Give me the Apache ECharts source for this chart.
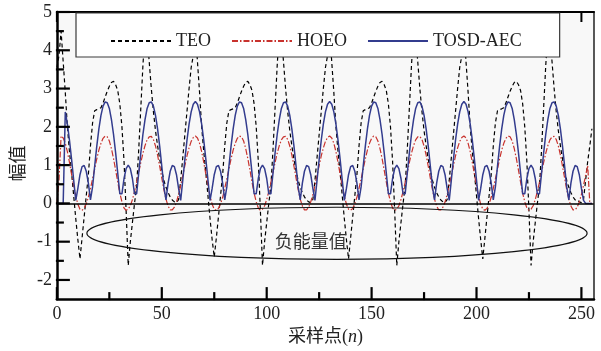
<!DOCTYPE html>
<html><head><meta charset="utf-8">
<script src="https://cdn.jsdelivr.net/npm/echarts@6/dist/echarts.min.js"></script>
<style>html,body{margin:0;padding:0;background:#fff}#c{width:601px;height:351px}</style>
</head><body><div id="c"></div>
<script>
const seriesNames = ['TEO', 'HOEO', 'TOSD-AEC'];

const teo = [
  3.55, 3.86, 4.5, 3.7, 2.9, 2.0, 1.35, 0.8, 0.2, -0.4, -0.95, -1.45, -0.9, -0.35, 0.2, 0.75, 1.5, 2.1, 2.42, 2.45, 2.47, 2.5, 2.62, 2.78, 2.93, 3.06, 3.16, 3.19, 3.1, 2.95, 2.6, 2.0, 1.1, -0.2, -1.62, -1.0, -0.5, 0.0, 0.45, 1.4, 2.5, 3.6, 4.5, 4.4, 3.7, 3.0, 2.4, 1.9, 1.5, 1.15, 0.85, 0.6, 0.42, 0.28, 0.17, 0.09, 0.04, 0.02, 0.1, 0.6, 1.2, 1.8, 2.4, 3.0,
  3.55, 3.86, 4.5, 3.7, 2.9, 2.0, 1.35, 0.8, 0.2, -0.4, -0.95, -1.4, -0.9, -0.35, 0.2, 0.75, 1.5, 2.1, 2.42, 2.45, 2.47, 2.5, 2.62, 2.78, 2.93, 3.06, 3.16, 3.19, 3.1, 2.95, 2.6, 2.0, 1.1, -0.2, -1.62, -1.0, -0.5, 0.0, 0.45, 1.4, 2.5, 3.6, 4.5, 4.4, 3.7, 3.0, 2.4, 1.9, 1.5, 1.15, 0.85, 0.6, 0.42, 0.28, 0.17, 0.09, 0.04, 0.02, 0.1, 0.6, 1.2, 1.8, 2.4, 3.0,
  3.55, 3.86, 4.5, 3.7, 2.9, 2.0, 1.35, 0.8, 0.2, -0.4, -0.95, -1.45, -0.9, -0.35, 0.2, 0.75, 1.5, 2.1, 2.42, 2.45, 2.47, 2.5, 2.62, 2.78, 2.93, 3.06, 3.16, 3.19, 3.1, 2.95, 2.6, 2.0, 1.1, -0.2, -1.62, -1.0, -0.5, 0.0, 0.45, 1.4, 2.5, 3.6, 4.5, 4.4, 3.7, 3.0, 2.4, 1.9, 1.5, 1.15, 0.85, 0.6, 0.42, 0.28, 0.17, 0.09, 0.04, 0.02, 0.1, 0.6, 1.2, 1.8, 2.4, 3.0,
  3.55, 3.86, 4.5, 3.7, 2.9, 2.0, 1.35, 0.8, 0.2, -0.4, -0.95, -1.45, -0.9, -0.35, 0.2, 0.75, 1.5, 2.1, 2.42, 2.45, 2.47, 2.5, 2.62, 2.78, 2.93, 3.06, 3.16, 3.19, 3.1, 2.95, 2.6, 2.0, 1.1, -0.2, -1.62, -1.0, -0.5, 0.0, 0.45, 1.4, 2.5, 3.6, 4.5, 4.4, 3.7, 3.0, 2.4, 1.9, 1.5, 1.15, 0.85, 0.6, 0.42, 0.28, 0.17, 0.09, 0.1, 0.04, 0.02, 0.1, 0.6, 1.1, 1.5, 1.95
];

const hoeo = [
  0, 0.6, 1.76, 1.71, 1.57, 1.35, 1.07, 0.76, 0.46, 0.19, -0.02, -0.15, -0.18, -0.13, -0.01, 0.16, 0.39, 0.64, 0.90, 1.16, 1.39, 1.57, 1.70, 1.76, 1.74, 1.63, 1.43, 1.17, 0.87, 0.56, 0.27, 0.04, -0.12, -0.18, -0.15, -0.06, 0.10, 0.31, 0.55, 0.81, 1.07, 1.31, 1.51, 1.66, 1.74, 1.75, 1.67, 1.50, 1.26, 0.97, 0.66, 0.36, 0.11, -0.07, -0.17, -0.17, -0.10, 0.04, 0.23, 0.47, 0.73, 0.99, 1.24, 1.45,
  1.62, 1.72, 1.76, 1.71, 1.57, 1.35, 1.07, 0.76, 0.46, 0.19, -0.02, -0.15, -0.18, -0.13, -0.01, 0.16, 0.39, 0.64, 0.90, 1.16, 1.39, 1.57, 1.70, 1.76, 1.74, 1.63, 1.43, 1.17, 0.87, 0.56, 0.27, 0.04, -0.12, -0.18, -0.15, -0.06, 0.10, 0.31, 0.55, 0.81, 1.07, 1.31, 1.51, 1.66, 1.74, 1.75, 1.67, 1.50, 1.26, 0.97, 0.66, 0.36, 0.11, -0.07, -0.17, -0.17, -0.10, 0.04, 0.23, 0.47, 0.73, 0.99, 1.24, 1.45,
  1.62, 1.72, 1.76, 1.71, 1.57, 1.35, 1.07, 0.76, 0.46, 0.19, -0.02, -0.15, -0.18, -0.13, -0.01, 0.16, 0.39, 0.64, 0.90, 1.16, 1.39, 1.57, 1.70, 1.76, 1.74, 1.63, 1.43, 1.17, 0.87, 0.56, 0.27, 0.04, -0.12, -0.18, -0.15, -0.06, 0.10, 0.31, 0.55, 0.81, 1.07, 1.31, 1.51, 1.66, 1.74, 1.75, 1.67, 1.50, 1.26, 0.97, 0.66, 0.36, 0.11, -0.07, -0.17, -0.17, -0.10, 0.04, 0.23, 0.47, 0.73, 0.99, 1.24, 1.45,
  1.62, 1.72, 1.76, 1.71, 1.57, 1.35, 1.07, 0.76, 0.46, 0.19, -0.02, -0.15, -0.18, -0.13, -0.01, 0.16, 0.39, 0.64, 0.90, 1.16, 1.39, 1.57, 1.70, 1.76, 1.74, 1.63, 1.43, 1.17, 0.87, 0.56, 0.27, 0.04, -0.12, -0.18, -0.15, -0.06, 0.10, 0.31, 0.55, 0.81, 1.07, 1.31, 1.51, 1.66, 1.74, 1.75, 1.67, 1.50, 1.26, 0.97, 0.66, 0.36, 0.11, -0.07, -0.17, -0.17, -0.10, 0.04, 0.23, 0.47, 0.73, 0.99, 0, 0
];

const tosdAec = [
  0, 0, 0, 0, 2.39, 2.07, 1.65, 1.15, 0.61, 0.08, 0.39, 0.75, 0.96, 0.99, 0.84, 0.53, 0.09, 0.43, 0.97, 1.49, 1.94, 2.30, 2.54, 2.65, 2.63, 2.48, 2.19, 1.80, 1.32, 0.79, 0.25, 0.25, 0.65, 0.91, 1.00, 0.91, 0.65, 0.25, 0.25, 0.79, 1.32, 1.80, 2.19, 2.48, 2.63, 2.65, 2.54, 2.30, 1.94, 1.49, 0.97, 0.43, 0.09, 0.53, 0.84, 0.99, 0.96, 0.75, 0.39, 0.08, 0.61, 1.15, 1.65, 2.07,
  2.39, 2.59, 2.66, 2.59, 2.39, 2.07, 1.65, 1.15, 0.61, 0.08, 0.39, 0.75, 0.96, 0.99, 0.84, 0.53, 0.09, 0.43, 0.97, 1.49, 1.94, 2.30, 2.54, 2.65, 2.63, 2.48, 2.19, 1.80, 1.32, 0.79, 0.25, 0.25, 0.65, 0.91, 1.00, 0.91, 0.65, 0.25, 0.25, 0.79, 1.32, 1.80, 2.19, 2.48, 2.63, 2.65, 2.54, 2.30, 1.94, 1.49, 0.97, 0.43, 0.09, 0.53, 0.84, 0.99, 0.96, 0.75, 0.39, 0.08, 0.61, 1.15, 1.65, 2.07,
  2.39, 2.59, 2.66, 2.59, 2.39, 2.07, 1.65, 1.15, 0.61, 0.08, 0.39, 0.75, 0.96, 0.99, 0.84, 0.53, 0.09, 0.43, 0.97, 1.49, 1.94, 2.30, 2.54, 2.65, 2.63, 2.48, 2.19, 1.80, 1.32, 0.79, 0.25, 0.25, 0.65, 0.91, 1.00, 0.91, 0.65, 0.25, 0.25, 0.79, 1.32, 1.80, 2.19, 2.48, 2.63, 2.65, 2.54, 2.30, 1.94, 1.49, 0.97, 0.43, 0.09, 0.53, 0.84, 0.99, 0.96, 0.75, 0.39, 0.08, 0.61, 1.15, 1.65, 2.07,
  2.39, 2.59, 2.66, 2.59, 2.39, 2.07, 1.65, 1.15, 0.61, 0.08, 0.39, 0.75, 0.96, 0.99, 0.84, 0.53, 0.09, 0.43, 0.97, 1.49, 1.94, 2.30, 2.54, 2.65, 2.63, 2.48, 2.19, 1.80, 1.32, 0.79, 0.25, 0.25, 0.65, 0.91, 1.00, 0.91, 0.65, 0.25, 0.25, 0.79, 1.32, 1.80, 2.19, 2.48, 2.63, 2.65, 2.54, 2.30, 1.94, 1.49, 0.97, 0.43, 0.09, 0.53, 0.84, 0.99, 0.96, 0.75, 0.39, 0.08, 0, 0, 0, 0
];

const xMajorTicks = [0, 50, 100, 150, 200, 250];
const xMinorTicks = [25, 75, 125, 175, 225];
const yMajorTicks = [-2, -1, 0, 1, 2, 3, 4, 5];
const yMinorTicks = [-1.5, -0.5, 0.5, 1.5, 2.5, 3.5, 4.5];

const xName = '采样点({it|n})';
const yName = '幅值';
const noteText = '负能量值';

const X_MIN = 0, X_MAX = 256, Y_MIN = -2.5, Y_MAX = 5;

const serif = "'Liberation Serif', 'Times New Roman', serif";
const cjk = "'Liberation Serif', 'Noto Sans CJK SC', serif";

function pairs(arr) { return arr.map((v, i) => [i, v]); }

function bgRender(params, api) {
  const cs = params.coordSys;
  return { type: 'rect', shape: { x: cs.x, y: cs.y, width: cs.width, height: cs.height }, style: { fill: '#f8f8f8' } };
}

const chart = echarts.init(document.getElementById('c'), null, { renderer: 'canvas' });

const option = {
  animation: false,
  backgroundColor: '#ffffff',
  grid: { left: 55, right: 7, top: 12, bottom: 46, show: false },
  legend: {
    data: seriesNames,
    left: 76, top: 13, z: 20, zlevel: 1,
    padding: [19, 38, 7, 34],
    itemWidth: 60, itemHeight: 14, itemGap: 20,
    itemStyle: { opacity: 0 },
    backgroundColor: '#ffffff', borderColor: '#3a3a3a', borderWidth: 1.2, borderRadius: 0,
    textStyle: { fontFamily: serif, fontSize: 18, color: '#222' },
    selectedMode: false
  },
  xAxis: [
    {
      type: 'value', min: X_MIN, max: X_MAX, position: 'bottom', splitLine: { show: false }, z: 8,
      axisLine: { show: true, onZero: false, lineStyle: { color: '#000', width: 2.5 } },
      axisTick: { show: false },
      axisLabel: { show: true, customValues: xMajorTicks, margin: 6, fontFamily: serif, fontSize: 18, color: '#222' },
      name: xName, nameLocation: 'middle', nameGap: 25,
      nameTextStyle: { fontFamily: cjk, fontSize: 18, color: '#222', rich: { it: { fontFamily: serif, fontStyle: 'italic', fontSize: 18, color: '#222' } } }
    },
    {
      type: 'value', min: X_MIN, max: X_MAX, position: 'top', splitLine: { show: false }, z: 8,
      axisLine: { show: true, onZero: false, lineStyle: { color: '#000', width: 2 } },
      axisTick: { show: false }, axisLabel: { show: false }
    }
  ],
  yAxis: [
    {
      type: 'value', min: Y_MIN, max: Y_MAX, position: 'left', splitLine: { show: false }, z: 8,
      axisLine: { show: true, onZero: false, lineStyle: { color: '#000', width: 2.5 } },
      axisTick: { show: false },
      axisLabel: { show: true, customValues: yMajorTicks, margin: 5, fontFamily: serif, fontSize: 18, color: '#222' },
      name: yName, nameLocation: 'middle', nameGap: 30, nameRotate: 90,
      nameTextStyle: { fontFamily: "'Noto Sans CJK SC'", fontSize: 18, color: '#222', padding: [0, 16, 0, 0] }
    },
    {
      type: 'value', min: Y_MIN, max: Y_MAX, position: 'right', splitLine: { show: false }, z: 8,
      axisLine: { show: true, onZero: false, lineStyle: { color: '#222', width: 1.5 } },
      axisTick: { show: false }, axisLabel: { show: false }
    }
  ],
  series: [
    {
      type: 'custom', name: 'plotbg', xAxisIndex: 0, yAxisIndex: 0, data: [[0, 0]],
      renderItem: bgRender, silent: true, clip: false, z: 0
    },
    {
      name: seriesNames[0], type: 'line', xAxisIndex: 0, yAxisIndex: 0,
      data: pairs(teo), symbol: 'none', showSymbol: false, clip: true,
      lineStyle: { color: '#000', width: 1.2, type: [4, 3] }, itemStyle: { color: '#000' }, z: 2
    },
    {
      name: seriesNames[1], type: 'line', xAxisIndex: 0, yAxisIndex: 0,
      data: pairs(hoeo), symbol: 'none', showSymbol: false, clip: true,
      lineStyle: { color: '#c8322d', width: 1.2, type: [6, 2, 1.5, 2] }, itemStyle: { color: '#c8322d' }, z: 3
    },
    {
      name: seriesNames[2], type: 'line', xAxisIndex: 0, yAxisIndex: 0,
      data: pairs(tosdAec), symbol: 'none', showSymbol: false, clip: true,
      lineStyle: { color: '#333c8e', width: 1.5, type: 'solid' }, itemStyle: { color: '#333c8e' }, z: 4,
      markLine: {
        silent: true, symbol: ['none', 'none'], animation: false,
        label: { show: false },
        lineStyle: { color: '#000', width: 1.5, type: 'solid' },
        data: [{ yAxis: 0 }]
      }
    }
  ]
};
chart.setOption(option);

// Tick marks and annotation, positioned through the chart's own scales
const toPx = (x, y) => chart.convertToPixel({ xAxisIndex: 0, yAxisIndex: 0 }, [x, y]);
const gfx = [];
function tickX(v, lenB, lenT, wT) {
  const b = toPx(v, Y_MIN), t = toPx(v, Y_MAX);
  gfx.push({ type: 'line', silent: true, zlevel: 1, z: 30, shape: { x1: b[0], y1: b[1] + 1, x2: b[0], y2: b[1] - lenB }, style: { stroke: '#000', lineWidth: 2.2 } });
  gfx.push({ type: 'line', silent: true, zlevel: 1, z: 5, shape: { x1: t[0], y1: t[1], x2: t[0], y2: t[1] + lenT }, style: { stroke: '#000', lineWidth: wT } });
}
function tickY(v, len) {
  const p = toPx(X_MIN, v);
  gfx.push({ type: 'line', silent: true, zlevel: 1, z: 30, shape: { x1: p[0] - 1, y1: p[1], x2: p[0] + len, y2: p[1] }, style: { stroke: '#000', lineWidth: 2.2 } });
}
xMajorTicks.forEach(v => tickX(v, 12, 10, 2));
xMinorTicks.forEach(v => tickX(v, 7, 5, 1.5));
yMajorTicks.forEach(v => tickY(v, 13));
yMinorTicks.forEach(v => tickY(v, 7));

const c0 = toPx(133.5, -0.78), cL = toPx(14.3, -0.78), cT = toPx(133.5, -0.1);
gfx.push({ type: 'ellipse', silent: true, z: 6, shape: { cx: c0[0], cy: c0[1], rx: c0[0] - cL[0], ry: c0[1] - cT[1] }, style: { fill: 'none', stroke: '#111', lineWidth: 1.2 } });
const tp = toPx(121, -0.98);
gfx.push({ type: 'text', silent: true, z: 6, style: { text: noteText, x: tp[0], y: tp[1], align: 'center', verticalAlign: 'middle', fontFamily: "'Noto Sans CJK SC'", fontSize: 18, fill: '#333' } });

chart.setOption({ graphic: { elements: gfx } });
</script>
</body></html>
